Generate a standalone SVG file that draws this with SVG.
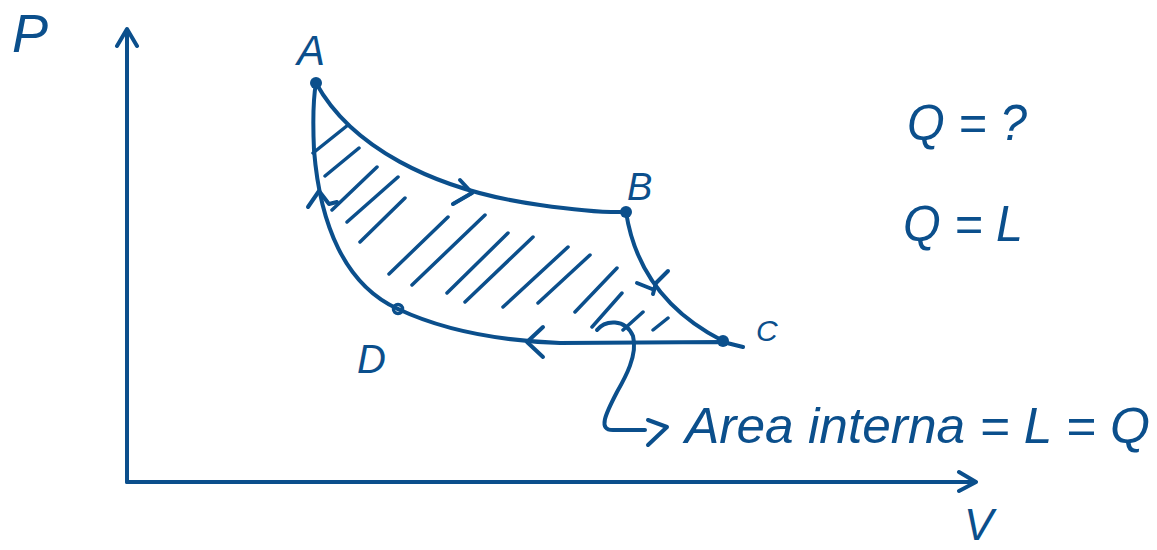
<svg xmlns="http://www.w3.org/2000/svg" width="1157" height="550" viewBox="0 0 1157 550">
<style>
.ink{fill:none;stroke:#0b4f8c;stroke-width:4;stroke-linecap:round;stroke-linejoin:round}
.hatch{fill:none;stroke:#0b4f8c;stroke-width:3.5;stroke-linecap:round}
.txt{fill:#0b4f8c;font-family:"Liberation Sans",Arial,sans-serif;font-style:italic}
.dot{fill:#0b4f8c}
</style>
<rect width="1157" height="550" fill="#ffffff"/>
<g id="axes">
<path class="ink" d="M127,482 L127,30 M117,46 L127,29 L137,46"/>
<path class="ink" d="M127,482 L975,482 M959,472 L976,482 L959,491"/>
<text class="txt" x="12" y="52" font-size="54">P</text>
<text class="txt" x="964" y="540" font-size="44">V</text>
</g>
<g id="hatching">
<path class="hatch" d="M313,153 L348,125 M325,176 L359,148 M332,210 L377,167 M347,222 L398,177 M360,242 L405,198 M389,274 L448,217 M412,285 L485,215 M447,293 L508,233 M465,302 L533,237 M503,307 L568,247 M538,303 L590,255 M575,312 L617,268 M592,327 L622,293 M623,330 L643,312 M653,330 L668,318 M453,204 L472,193"/>
</g>
<g id="connectors">
<path class="ink" d="M316,83 C350,145 430,190 540,205 Q595,213 626,212"/>
<path class="ink" d="M460,180 L472,193 L453,204"/>
<path class="ink" d="M626,212 C635,270 668,313 723,341"/>
<path class="ink" d="M637,283 L652,289 M668,271 L656,283 L653,294"/>
<path class="ink" d="M743,347 L723,342 L560,343 C480,340 432,325 398,309"/>
<path class="ink" d="M543,327 L527,342 L543,357"/>
<path class="ink" d="M398,309 C345,285 320,225 314,150 Q312,105 316,83"/>
<path class="ink" d="M308,207 L319,191 L329,204 L337,202"/>
<path class="ink" d="M597,330 C605,320 625,318 633,336 C638,355 625,378 617,392 C605,415 598,430 613,430 L645,430"/>
<path class="ink" d="M648,420 L667,427 L648,445"/>
</g>
<g id="node-A">
<circle class="dot" cx="316" cy="83" r="6"/>
<text class="txt" x="297" y="65" font-size="42">A</text>
</g>
<g id="node-B">
<circle class="dot" cx="626" cy="212" r="6"/>
<text class="txt" x="627" y="200" font-size="38">B</text>
</g>
<g id="node-C">
<circle class="dot" cx="723" cy="341" r="6"/>
<text class="txt" x="756" y="341" font-size="30">C</text>
</g>
<g id="node-D">
<circle cx="398" cy="309" r="4.5" fill="none" stroke="#0b4f8c" stroke-width="3.5"/>
<text class="txt" x="357" y="373" font-size="40">D</text>
</g>
<g id="labels">
<text class="txt" x="907" y="140" font-size="50" textLength="120" lengthAdjust="spacingAndGlyphs">Q = ?</text>
<text class="txt" x="903" y="241" font-size="50" textLength="120" lengthAdjust="spacingAndGlyphs">Q = L</text>
<text class="txt" x="685" y="443" font-size="50" textLength="465" lengthAdjust="spacingAndGlyphs">Area interna = L = Q</text>
</g>
</svg>
